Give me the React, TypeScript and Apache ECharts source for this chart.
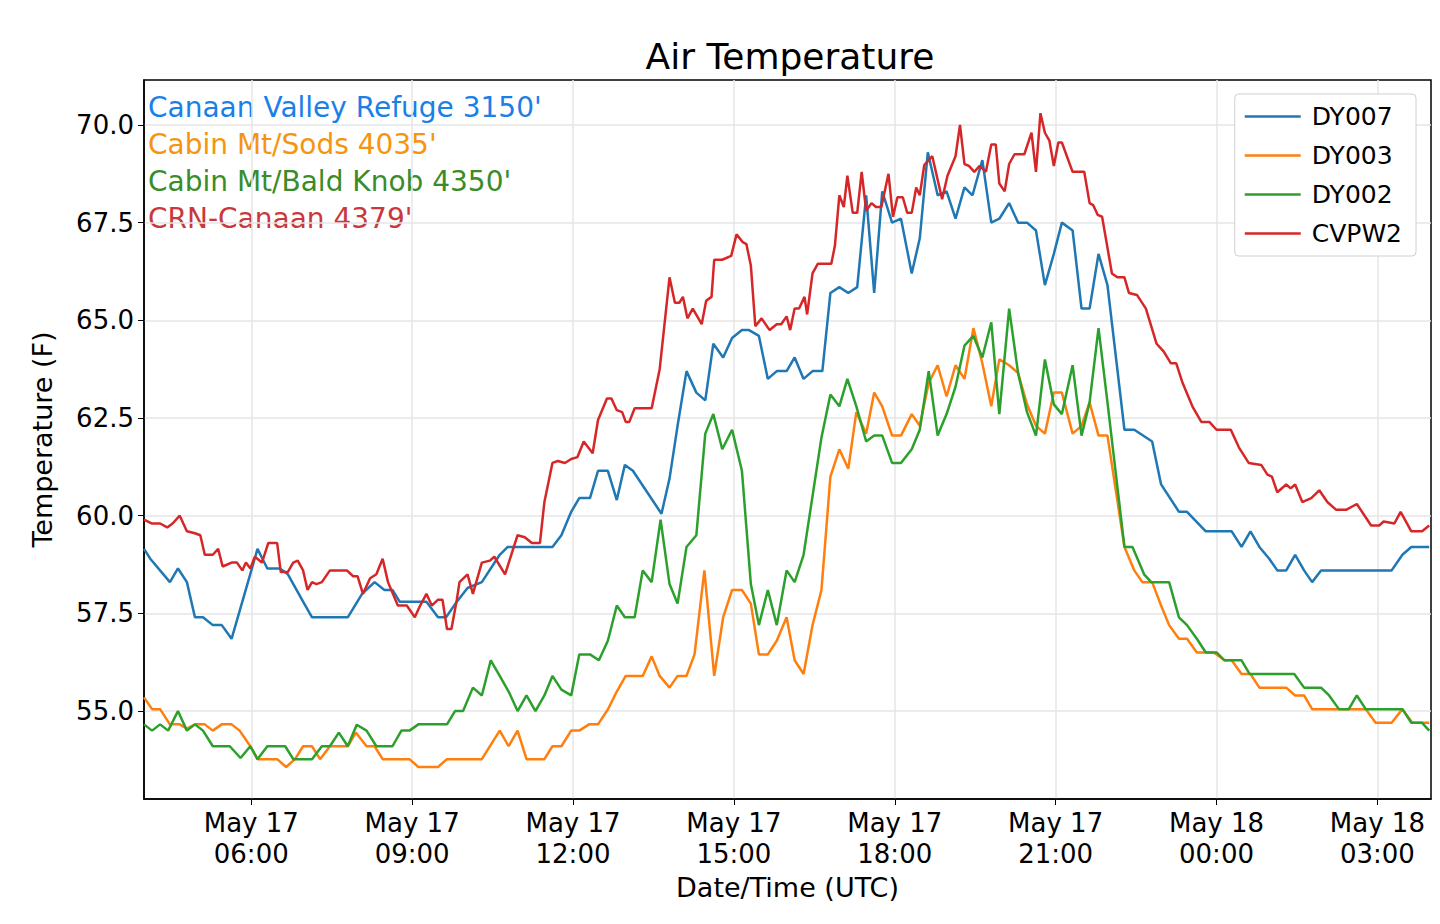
import { useEffect, useRef } from 'react';
import * as echarts from 'echarts';

// minutes after May 17 04:00 UTC, and temperatures (F)
const dy007Min = [0, 7, 29, 38, 48, 57, 66, 77, 87, 98, 127, 138, 152, 161, 178, 188, 228, 244, 258, 269, 278, 286, 316, 329, 338, 350, 362, 378, 398, 407, 457, 467, 478, 487, 499, 508, 519, 529, 538, 547, 579, 588, 597, 607, 618, 628, 637, 648, 658, 669, 677, 688, 698, 708, 719, 728, 738, 748, 759, 768, 778, 788, 798, 808, 817, 826, 837, 847, 859, 868, 877, 888, 898, 908, 918, 927, 938, 948, 957, 968, 978, 988, 998, 1008, 1018, 1027, 1039, 1049, 1058, 1068, 1078, 1097, 1108, 1128, 1138, 1158, 1167, 1188, 1217, 1228, 1238, 1248, 1259, 1268, 1278, 1288, 1298, 1307, 1317, 1396, 1408, 1418, 1438];
const dy007Val = [59.15, 58.9, 58.3, 58.65, 58.3, 57.4, 57.4, 57.2, 57.2, 56.85, 59.15, 58.65, 58.65, 58.5, 57.8, 57.4, 57.4, 58.0, 58.3, 58.1, 58.1, 57.8, 57.8, 57.4, 57.4, 57.8, 58.15, 58.3, 59.0, 59.2, 59.2, 59.5, 60.1, 60.45, 60.45, 61.15, 61.15, 60.4, 61.3, 61.15, 60.05, 60.95, 62.3, 63.7, 63.15, 62.95, 64.4, 64.05, 64.55, 64.75, 64.75, 64.6, 63.5, 63.7, 63.7, 64.05, 63.5, 63.7, 63.7, 65.7, 65.85, 65.7, 65.85, 68.2, 65.7, 68.3, 67.5, 67.6, 66.2, 67.1, 69.3, 68.2, 68.3, 67.6, 68.4, 68.2, 69.1, 67.5, 67.6, 68.0, 67.5, 67.5, 67.3, 65.9, 66.7, 67.5, 67.3, 65.3, 65.3, 66.7, 65.9, 62.2, 62.2, 61.9, 60.8, 60.1, 60.1, 59.6, 59.6, 59.2, 59.6, 59.2, 58.9, 58.6, 58.6, 59.0, 58.6, 58.3, 58.6, 58.6, 59.0, 59.2, 59.2];

const dy003Min = [0, 9, 18, 29, 40, 48, 57, 68, 77, 87, 98, 107, 119, 127, 149, 159, 169, 178, 188, 197, 208, 228, 237, 249, 258, 267, 297, 307, 329, 339, 378, 398, 408, 418, 428, 448, 457, 467, 478, 487, 498, 508, 519, 529, 539, 558, 568, 577, 588, 597, 607, 616, 627, 638, 648, 658, 669, 679, 688, 698, 708, 719, 728, 738, 748, 758, 768, 778, 788, 797, 808, 817, 826, 837, 847, 859, 868, 878, 888, 898, 908, 918, 928, 938, 948, 957, 968, 978, 988, 998, 1008, 1018, 1027, 1039, 1049, 1058, 1068, 1078, 1097, 1108, 1117, 1128, 1138, 1147, 1158, 1167, 1178, 1197, 1209, 1217, 1228, 1238, 1248, 1278, 1288, 1298, 1307, 1367, 1378, 1396, 1408, 1419, 1438];
const dy003Val = [55.35, 55.05, 55.05, 54.66, 54.66, 54.55, 54.66, 54.66, 54.5, 54.66, 54.66, 54.5, 54.1, 53.77, 53.77, 53.57, 53.77, 54.1, 54.1, 53.77, 54.1, 54.1, 54.45, 54.1, 54.1, 53.77, 53.77, 53.57, 53.57, 53.77, 53.77, 54.5, 54.1, 54.5, 53.77, 53.77, 54.1, 54.1, 54.5, 54.5, 54.66, 54.66, 55.04, 55.5, 55.9, 55.9, 56.4, 55.9, 55.6, 55.9, 55.9, 56.45, 58.6, 55.9, 57.4, 58.1, 58.1, 57.75, 56.45, 56.45, 56.8, 57.4, 56.3, 55.95, 57.2, 58.1, 61.0, 61.7, 61.2, 62.65, 62.1, 63.15, 62.8, 62.05, 62.05, 62.6, 62.3, 63.4, 63.85, 63.05, 63.85, 63.5, 64.8, 63.9, 62.8, 64.0, 63.85, 63.65, 62.85, 62.3, 62.1, 63.15, 63.15, 62.1, 62.3, 62.9, 62.05, 62.05, 59.2, 58.6, 58.3, 58.3, 57.7, 57.2, 56.85, 56.85, 56.5, 56.5, 56.3, 56.3, 55.95, 55.95, 55.6, 55.6, 55.4, 55.4, 55.05, 55.05, 54.7, 54.7, 55.05, 54.7, 54.7];

const dy002Min = [0, 9, 18, 27, 38, 48, 57, 66, 77, 96, 108, 119, 127, 138, 158, 167, 188, 199, 208, 218, 228, 238, 249, 260, 278, 288, 297, 307, 339, 348, 357, 368, 378, 388, 398, 408, 418, 428, 438, 448, 457, 467, 478, 487, 499, 509, 519, 529, 538, 549, 558, 568, 578, 588, 597, 607, 618, 628, 637, 647, 658, 669, 679, 688, 698, 708, 719, 728, 738, 748, 758, 768, 778, 787, 797, 808, 817, 826, 837, 847, 859, 868, 878, 888, 898, 908, 918, 928, 938, 948, 957, 968, 978, 988, 998, 1008, 1018, 1027, 1039, 1049, 1058, 1068, 1078, 1097, 1106, 1119, 1127, 1147, 1158, 1167, 1178, 1188, 1200, 1209, 1228, 1237, 1287, 1298, 1317, 1326, 1337, 1348, 1357, 1367, 1408, 1418, 1430, 1438];
const dy002Val = [54.66, 54.5, 54.66, 54.5, 55.0, 54.5, 54.66, 54.5, 54.1, 54.1, 53.8, 54.1, 53.77, 54.1, 54.1, 53.77, 53.77, 54.1, 54.1, 54.45, 54.1, 54.65, 54.5, 54.1, 54.1, 54.5, 54.5, 54.66, 54.66, 55.0, 55.0, 55.6, 55.4, 56.3, 55.9, 55.5, 55.0, 55.4, 55.0, 55.4, 55.9, 55.55, 55.4, 56.45, 56.45, 56.3, 56.8, 57.7, 57.4, 57.4, 58.6, 58.3, 59.9, 58.25, 57.75, 59.2, 59.5, 62.1, 62.6, 61.7, 62.2, 61.15, 58.25, 57.2, 58.1, 57.2, 58.6, 58.3, 59.0, 60.5, 62.0, 63.1, 62.8, 63.5, 62.8, 61.9, 62.05, 62.05, 61.35, 61.35, 61.7, 62.2, 63.7, 62.05, 62.6, 63.3, 64.35, 64.6, 64.05, 64.95, 62.6, 65.3, 63.65, 62.65, 62.05, 64.0, 62.85, 62.6, 63.85, 62.05, 62.9, 64.8, 62.9, 59.2, 59.2, 58.5, 58.3, 58.3, 57.4, 57.2, 56.85, 56.5, 56.5, 56.3, 56.3, 55.95, 55.95, 55.6, 55.6, 55.4, 55.05, 55.05, 55.4, 55.05, 55.05, 54.7, 54.7, 54.5];

const cvpw2Min = [0, 9, 18, 26, 32, 40, 48, 57, 63, 68, 77, 83, 88, 98, 104, 110, 114, 119, 124, 132, 139, 149, 153, 161, 167, 172, 178, 183, 188, 193, 199, 208, 227, 234, 239, 245, 253, 260, 267, 273, 284, 294, 303, 309, 316, 322, 329, 334, 339, 344, 350, 353, 362, 368, 378, 387, 392, 404, 418, 426, 434, 443, 448, 457, 463, 471, 478, 485, 492, 502, 508, 518, 523, 529, 535, 539, 543, 549, 568, 577, 588, 594, 599, 603, 608, 614, 624, 629, 635, 638, 647, 657, 663, 670, 674, 679, 684, 691, 700, 708, 713, 719, 723, 728, 733, 739, 742, 748, 754, 769, 773, 778, 783, 787, 793, 798, 803, 808, 814, 819, 825, 833, 838, 843, 849, 854, 859, 864, 868, 873, 882, 893, 899, 908, 913, 918, 923, 929, 935, 942, 948, 953, 957, 963, 968, 974, 985, 993, 998, 1003, 1008, 1013, 1018, 1023, 1027, 1039, 1052, 1058, 1062, 1067, 1072, 1083, 1089, 1097, 1102, 1111, 1121, 1133, 1141, 1149, 1155, 1162, 1173, 1183, 1192, 1200, 1216, 1225, 1236, 1250, 1257, 1262, 1268, 1278, 1283, 1288, 1296, 1306, 1315, 1324, 1334, 1345, 1357, 1373, 1382, 1387, 1399, 1406, 1418, 1430, 1438];
const cvpw2Val = [59.9, 59.8, 59.8, 59.7, 59.8, 60.0, 59.6, 59.55, 59.5, 59.0, 59.0, 59.15, 58.7, 58.8, 58.8, 58.6, 58.8, 58.65, 58.95, 58.8, 59.3, 59.3, 58.56, 58.56, 58.8, 58.85, 58.6, 58.1, 58.3, 58.25, 58.3, 58.6, 58.6, 58.45, 58.45, 58.0, 58.4, 58.5, 58.9, 58.3, 57.7, 57.7, 57.4, 57.7, 58.0, 57.7, 57.85, 57.85, 57.1, 57.1, 57.85, 58.3, 58.5, 58.0, 58.8, 58.85, 58.95, 58.5, 59.5, 59.45, 59.3, 59.3, 60.35, 61.35, 61.4, 61.35, 61.45, 61.5, 61.9, 61.6, 62.45, 63.0, 63.0, 62.7, 62.65, 62.4, 62.4, 62.75, 62.75, 63.75, 66.1, 65.45, 65.45, 65.6, 65.05, 65.3, 64.9, 65.5, 65.6, 66.55, 66.55, 66.65, 67.2, 67.0, 66.95, 66.4, 64.85, 65.05, 64.75, 64.9, 64.9, 65.1, 64.75, 65.3, 65.3, 65.6, 65.15, 66.2, 66.45, 66.45, 66.9, 68.2, 67.9, 68.7, 67.75, 67.75, 68.8, 67.8, 68.0, 67.9, 67.9, 68.75, 67.65, 68.15, 68.15, 67.75, 67.75, 68.4, 68.2, 68.97, 69.2, 68.1, 68.7, 69.2, 70.0, 69.0, 68.95, 68.8, 68.95, 68.8, 69.5, 69.5, 68.5, 68.3, 69.0, 69.25, 69.25, 69.8, 68.8, 70.3, 69.8, 69.6, 68.95, 69.55, 69.55, 68.8, 68.8, 68.0, 67.95, 67.7, 67.65, 66.2, 66.1, 66.1, 65.7, 65.65, 65.3, 64.4, 64.2, 63.9, 63.9, 63.4, 62.8, 62.4, 62.4, 62.2, 62.2, 61.75, 61.35, 61.3, 61.05, 61.0, 60.6, 60.8, 60.7, 60.8, 60.35, 60.45, 60.65, 60.35, 60.15, 60.15, 60.3, 59.75, 59.75, 59.85, 59.8, 60.1, 59.6, 59.6, 59.75];

const xTicks = [120, 300, 480, 660, 840, 1020, 1200, 1380];
const xTickLabels = ['May 17\n06:00', 'May 17\n09:00', 'May 17\n12:00', 'May 17\n15:00', 'May 17\n18:00', 'May 17\n21:00', 'May 18\n00:00', 'May 18\n03:00'];
const yTicks = [55, 57.5, 60, 62.5, 65, 67.5, 70];

const stations = [
  { text: "Canaan Valley Refuge 3150'", color: '#1a7fe8' },
  { text: "Cabin Mt/Sods 4035'", color: '#f5950f' },
  { text: "Cabin Mt/Bald Knob 4350'", color: '#3a8c2a' },
  { text: "CRN-Canaan 4379'", color: '#c9383a' },
];

const FONT = 'DejaVu Sans';

const zip = (m: number[], v: number[]) => m.map((x, i) => [x, v[i]]);

function App() {
  const divEL = useRef<HTMLDivElement>(null);

  useEffect(() => {
    const instance = echarts.init(divEL.current as any, null, { renderer: 'svg' });
    const line = (name: string, color: string, data: number[][]) => ({
      name,
      type: 'line',
      data,
      symbol: 'none',
      color,
      lineStyle: { width: 2.5, color },
    });
    const option: any = {
      animation: false,
      backgroundColor: '#fff',
      textStyle: { fontFamily: FONT },
      title: {
        text: 'Air Temperature',
        left: 785,
        textAlign: 'center',
        top: 33,
        textStyle: { fontFamily: FONT, fontSize: 36, fontWeight: 'normal', color: '#000' },
      },
      grid: {
        left: 144, right: 9, top: 80, bottom: 125,
        show: true, borderColor: '#000', borderWidth: 1.5,
      },
      legend: {
        data: ['DY007', 'DY003', 'DY002', 'CVPW2'],
        orient: 'vertical',
        right: 24,
        top: 94,
        icon: 'rect',
        itemWidth: 56,
        itemHeight: 2.5,
        itemGap: 14,
        padding: [10, 14, 10, 10],
        borderColor: '#d0d0d0',
        borderWidth: 1,
        borderRadius: 4,
        backgroundColor: '#fff',
        textStyle: { fontFamily: FONT, fontSize: 25, color: '#000', padding: [0, 0, 0, 6] },
      },
      xAxis: {
        type: 'value',
        min: 0,
        max: 1440,
        name: 'Date/Time (UTC)',
        nameLocation: 'middle',
        nameGap: 74,
        nameTextStyle: { fontFamily: FONT, fontSize: 27, color: '#000' },
        axisLine: { lineStyle: { color: '#000', width: 1.5 } },
        axisTick: { customValues: xTicks, length: 6, lineStyle: { color: '#000' } },
        axisLabel: {
          customValues: xTicks,
          fontFamily: FONT, fontSize: 26, color: '#000', lineHeight: 31, margin: 8,
          formatter: (v: number) => xTickLabels[xTicks.indexOf(v)] ?? '',
        },
        splitLine: { show: true, lineStyle: { color: '#e6e6e6', width: 1.5 } },
      },
      yAxis: {
        type: 'value',
        min: 52.75,
        max: 71.15,
        name: 'Temperature (F)',
        nameLocation: 'middle',
        nameGap: 88,
        nameTextStyle: { fontFamily: FONT, fontSize: 27, color: '#000' },
        axisLine: { show: true, lineStyle: { color: '#000', width: 1.5 } },
        axisTick: { show: true, customValues: yTicks, length: 6, lineStyle: { color: '#000' } },
        axisLabel: {
          customValues: yTicks,
          fontFamily: FONT, fontSize: 26, color: '#000', margin: 10,
          formatter: (v: number) => v.toFixed(1),
        },
        splitLine: { show: true, lineStyle: { color: '#e6e6e6', width: 1.5 } },
      },
      graphic: stations.map((s, i) => ({
        type: 'text',
        left: 148,
        top: 93 + i * 37,
        style: { text: s.text, fill: s.color, font: `28px "${FONT}"` },
      })),
      series: [
        line('DY007', '#1f77b4', zip(dy007Min, dy007Val)),
        line('DY003', '#ff7f0e', zip(dy003Min, dy003Val)),
        line('DY002', '#2ca02c', zip(dy002Min, dy002Val)),
        line('CVPW2', '#d62728', zip(cvpw2Min, cvpw2Val)),
      ],
    };
    instance.setOption(option);
    return () => {
      instance.dispose();
    };
  }, []);

  return <div ref={divEL} style={{ position: 'fixed', left: 0, top: 0, width: '1440px', height: '924px' }}></div>;
}

export default App;
